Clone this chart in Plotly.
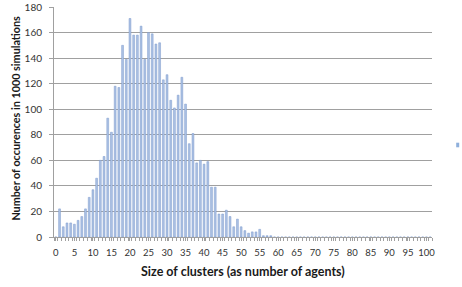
import plotly.graph_objects as go

cluster_size = list(range(0, 102))
occurrences = [0, 22, 8, 11, 11, 10, 13, 16, 22, 31,
               37, 46, 60, 63, 93, 82, 118, 117, 150, 139,
               171, 158, 158, 165, 139, 160, 159, 151, 152, 123,
               127, 107, 101, 111, 125, 104, 73, 81, 58, 60,
               57, 59, 39, 39, 18, 18, 21, 16, 8, 14,
               8, 5, 3, 4, 4, 6, 1, 1, 1, 0] + [0] * 42
tick_vals = list(range(0, 101, 5))
tick_text = [str(v) for v in tick_vals]
x_title = "Size of clusters (as number of agents)"
y_title = "Number of occurences in 1000 simulations"

fig = go.Figure()
fig.add_trace(go.Bar(
    x=cluster_size, y=occurrences,
    marker=dict(color="#adc2e4", line=dict(color="#7a99cd", width=0.5)),
))

font = "Lato, 'Open Sans', sans-serif"
fig.update_layout(
    width=462, height=287,
    margin=dict(l=54, r=30, t=7, b=50, autoexpand=False),
    paper_bgcolor="white", plot_bgcolor="white",
    bargap=0.5, showlegend=False,
    font=dict(family=font, size=9, color="#333333"),
)
fig.update_xaxes(
    range=[-0.5, 101.5], tickvals=tick_vals, ticktext=tick_text,
    showgrid=False, showline=True, linecolor="#a0a0a0", linewidth=1,
    ticks="outside", ticklen=3, tickcolor="#a0a0a0",
    minor=dict(dtick=1, tick0=0.5, ticks="outside", ticklen=3, tickcolor="#a0a0a0"),
    tickfont=dict(size=9.5, family=font, color="#333333"),
    ticklabelstandoff=4, automargin=False,
)
fig.update_yaxes(
    range=[0, 180], dtick=20, showgrid=True, gridcolor="#a0a0a0", gridwidth=1,
    showline=True, linecolor="#a0a0a0", linewidth=1, zeroline=False,
    ticks="outside", ticklen=4, tickcolor="#a0a0a0",
    tickfont=dict(size=10, family=font, color="#333333"),
    ticklabelstandoff=5, automargin=False,
)
fig.add_annotation(text="<b>" + x_title + "</b>", xref="paper", yref="paper",
                   x=0.501, y=-0.15, xanchor="center", yanchor="middle",
                   showarrow=False,
                   font=dict(size=12.5, family=font, color="#1a1a1a"))
fig.add_annotation(text="<b>" + y_title + "</b>", xref="paper", yref="paper",
                   x=-0.103, y=0.515, xanchor="center", yanchor="middle",
                   showarrow=False, textangle=-90,
                   font=dict(size=10.8, family=font, color="#1a1a1a"))
fig.add_shape(type="rect", xref="paper", yref="paper",
              x0=1.064, x1=1.072, y0=0.39, y1=0.41,
              fillcolor="#8fb0dc", line=dict(width=0))
fig.write_html("out.html", config={"displayModeBar": False},
               post_script="document.body.style.margin='0';document.body.style.overflow='hidden';")
